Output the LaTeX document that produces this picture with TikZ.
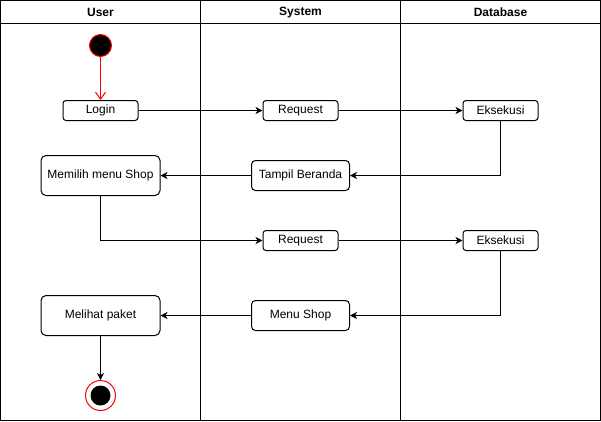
\documentclass[tikz,border=0pt]{standalone}
\usepackage{fontspec}
\setmainfont{Liberation Sans}
\usetikzlibrary{positioning, arrows.meta}
\definecolor{RedA}{HTML}{FF0000}
\tikzset{
  lane/.style={draw, line width=1pt},
  head/.style={font=\bfseries\fontsize{12}{14}\selectfont, inner sep=0pt},
  act/.style={draw, rounded corners=3pt, align=center, font=\fontsize{12}{14}\selectfont, minimum width=75pt, minimum height=20pt, inner sep=0pt, line width=1pt},
  big/.style={minimum width=119pt, minimum height=40pt, rounded corners=5pt},
  mid/.style={minimum width=98pt, minimum height=30pt, rounded corners=4pt},
  startdot/.style={circle, fill=black, draw=RedA, line width=1pt, minimum size=22pt, inner sep=0pt},
  stopdot/.style={circle, draw=RedA, line width=1pt, minimum size=30pt, inner sep=0pt,
    path picture={\fill[black] (path picture bounding box.center) circle (10pt);}},
  arr/.style={-{Stealth[length=7pt, width=7pt, inset=2pt]}, line width=1pt},
  redarr/.style={-{Straight Barb[length=7pt, width=10pt]}, line width=1pt, draw=RedA}
}

\begin{document}
\begin{tikzpicture}[x=1pt, y=-1pt]
  \useasboundingbox (0,0) rectangle (601,421);
  % swimlanes
  \draw[lane] (0.5,0.5) rectangle (600.5,420.5);
  \draw[lane] (0.5,23.5) -- (600.5,23.5);
  \draw[lane] (200.5,0.5) -- (200.5,420.5);
  \draw[lane] (400.5,0.5) -- (400.5,420.5);
  \node[head] (hUser) at (100.5,12.5) {User};
  \node[head] (hSystem) at (300.5,12.5) {System};
  \node[head] (hDb) at (500.5,12.5) {Database};

  \node[startdot] (start) at (100.5,45.5) {};
  \node[act] (login) at (100.5,110.5) {Login};
  \node[act] (req1) at (300.5,110.5) {Request};
  \node[act] (exe1) at (500.5,110.5) {Eksekusi};
  \node[act,big] (pilih) at (100.5,175.5) {Memilih menu Shop};
  \node[act,mid] (beranda) at (300.5,175.5) {Tampil Beranda};
  \node[act] (req2) at (300.5,240.5) {Request};
  \node[act] (exe2) at (500.5,240.5) {Eksekusi};
  \node[act,big] (paket) at (100.5,315.5) {Melihat paket};
  \node[act,mid] (shop) at (300.5,315.5) {Menu Shop};
  \node[stopdot] (stop) at (100.5,395.5) {};

  \draw[redarr] (start) -- (login);
  \draw[arr] (login) -- (req1);
  \draw[arr] (req1) -- (exe1);
  \draw[arr] (exe1) |- (beranda);
  \draw[arr] (beranda) -- (pilih);
  \draw[arr] (pilih) |- (req2);
  \draw[arr] (req2) -- (exe2);
  \draw[arr] (exe2) |- (shop);
  \draw[arr] (shop) -- (paket);
  \draw[arr] (paket) -- (stop);
\end{tikzpicture}
\end{document}
